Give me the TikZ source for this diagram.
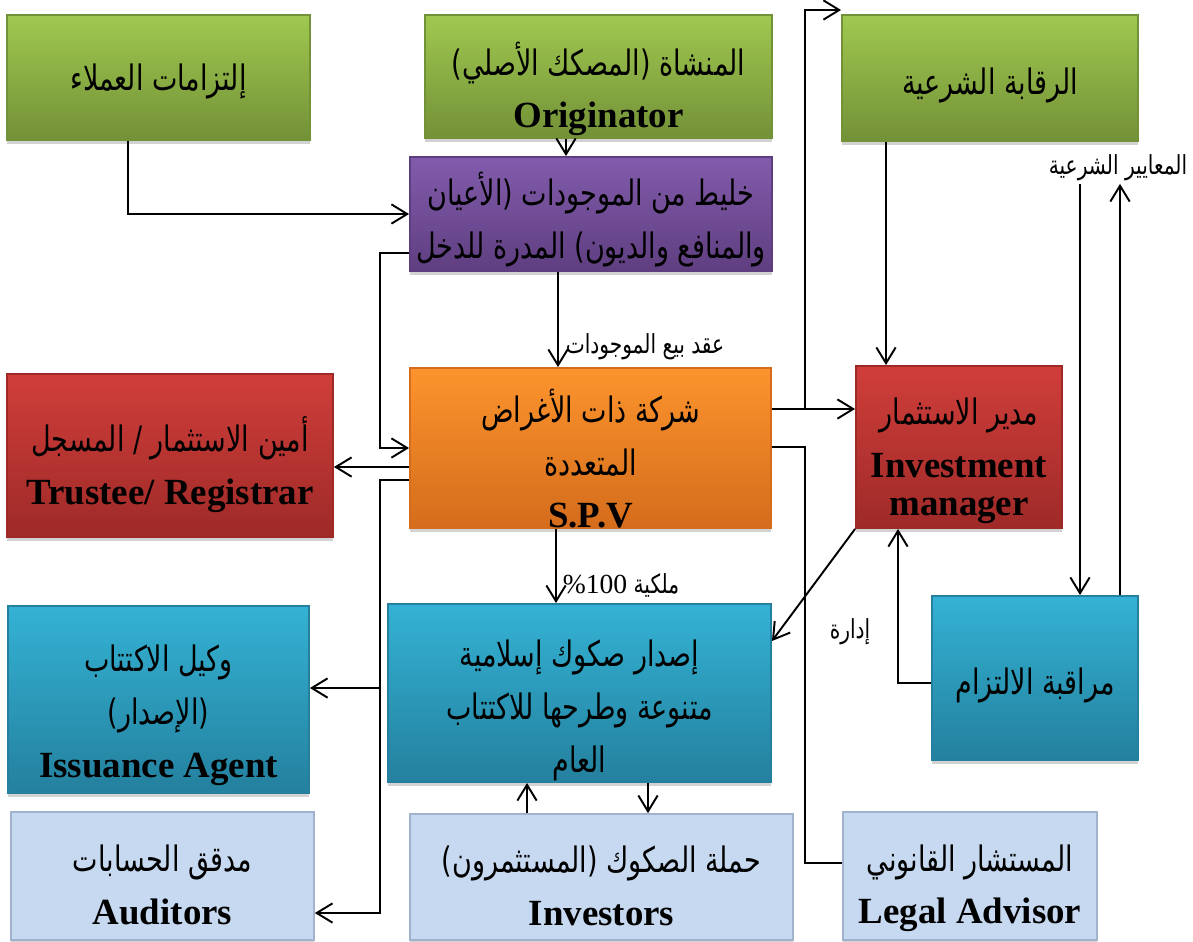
\documentclass[tikz,border=0pt]{standalone}
\usepackage{fontspec}
\setmainfont{Liberation Serif}
\newfontfamily\arabicfont[Script=Arabic, Scale=0.95, FakeStretch=0.77]{DejaVu Sans}
\TeXXeTstate=1
\usetikzlibrary{arrows.meta,shadows}

\definecolor{grntop}{RGB}{160,200,80}
\definecolor{grnbot}{RGB}{115,145,55}
\definecolor{purtop}{RGB}{130,92,172}
\definecolor{purbot}{RGB}{95,62,128}
\definecolor{orgtop}{RGB}{252,148,45}
\definecolor{orgbot}{RGB}{212,108,28}
\definecolor{redtop}{RGB}{208,62,58}
\definecolor{redbot}{RGB}{158,42,40}
\definecolor{blutop}{RGB}{52,178,212}
\definecolor{blubot}{RGB}{36,128,158}
\definecolor{lblue}{RGB}{198,217,240}
\definecolor{lbline}{RGB}{160,178,205}

\tikzset{
  box/.style={rectangle, inner sep=0pt,
    drop shadow={shadow xshift=0pt, shadow yshift=-2pt, fill=black!35}},
  boxtext/.style={align=center, inner sep=0pt, font=\fontsize{21}{30}\selectfont},
  greenbox/.style={box, top color=grntop, bottom color=grnbot, draw=grnbot},
  purplebox/.style={box, top color=purtop, bottom color=purbot, draw=purbot},
  orangebox/.style={box, top color=orgtop, bottom color=orgbot, draw=orgbot},
  redbox/.style={box, top color=redtop, bottom color=redbot, draw=redbot},
  bluebox/.style={box, top color=blutop, bottom color=blubot, draw=blubot},
  lightbox/.style={box, fill=lblue, draw=lbline, line width=1pt},
  arr/.style={-{Straight Barb[length=9pt,width=11pt]}},
  lbl/.style={font=\fontsize{15.7}{18}\selectfont, inner sep=1pt},
}

\begin{document}
\begin{tikzpicture}[x=0.02cm, y=-0.02cm, line width=1.1pt]
    \useasboundingbox (0,0) rectangle (1193,941);

    % top row
    \node [greenbox, minimum width=6.06cm, minimum height=2.5cm,
        label={[boxtext, yshift=-2pt]center:{{\arabicfont\beginR إلتزامات العملاء\endR}}}] (clients) at (158.5,77.5) {};
    \node [greenbox, minimum width=6.94cm, minimum height=2.46cm,
        label={[boxtext, yshift=-7pt]center:{{\arabicfont\beginR المنشاة (المصكك الأصلي)\endR}\\ \textbf{Originator}}}] (orig) at (598.5,76.5) {};
    \node [greenbox, minimum width=5.92cm, minimum height=2.52cm,
        label={[boxtext, yshift=-4pt]center:{{\arabicfont\beginR الرقابة الشرعية\endR}}}] (sharia) at (990,78) {};
    \node [purplebox, minimum width=7.24cm, minimum height=2.28cm,
        label={[boxtext, yshift=-3pt]center:{{\arabicfont\beginR خليط من الموجودات (الأعيان\endR}\\ {\arabicfont\beginR والمنافع والديون) المدرة للدخل\endR}}}] (pool) at (591,214) {};

    % middle row
    \node [orangebox, minimum width=7.22cm, minimum height=3.2cm,
        label={[boxtext, yshift=-6pt]center:{{\arabicfont\beginR شركة ذات الأغراض\endR}\\ {\arabicfont\beginR المتعددة\endR}\\ \textbf{S.P.V}}}] (spv) at (590.5,448) {};
    \node [redbox, minimum width=6.52cm, minimum height=3.26cm,
        label={[boxtext, yshift=-5pt]center:{{\arabicfont\beginR أمين الاستثمار / المسجل\endR}\\ \textbf{Trustee/ Registrar}}}] (trustee) at (170,455.5) {};
    \node [redbox, minimum width=4.12cm, minimum height=3.24cm,
        label={[boxtext, yshift=-8pt]center:{{\arabicfont\beginR مدير الاستثمار\endR}\\ \textbf{Investment}\\[-8pt] \textbf{manager}}}] (im) at (959,447) {};

    % lower rows
    \node [bluebox, minimum width=7.66cm, minimum height=3.56cm,
        label={[boxtext, yshift=-10pt]center:{{\arabicfont\beginR إصدار صكوك إسلامية\endR}\\ {\arabicfont\beginR متنوعة وطرحها للاكتتاب\endR}\\ {\arabicfont\beginR العام\endR}}}] (issue) at (579.5,693) {};
    \node [bluebox, minimum width=6.02cm, minimum height=3.74cm,
        label={[boxtext, yshift=-9pt]center:{{\arabicfont\beginR وكيل الاكتتاب\endR}\\ {\arabicfont\beginR (الإصدار)\endR}\\ \textbf{Issuance Agent}}}] (agent) at (158.5,699.5) {};
    \node [bluebox, minimum width=4.12cm, minimum height=3.28cm,
        label={[boxtext, yshift=-4pt]center:{{\arabicfont\beginR مراقبة الالتزام\endR}}}] (comp) at (1035,678) {};
    \node [lightbox, minimum width=6.06cm, minimum height=2.56cm,
        label={[boxtext, yshift=-5pt]center:{{\arabicfont\beginR مدقق الحسابات\endR}\\ \textbf{Auditors}}}] (aud) at (162.5,876) {};
    \node [lightbox, minimum width=7.66cm, minimum height=2.52cm,
        label={[boxtext, yshift=-5pt]center:{{\arabicfont\beginR حملة الصكوك (المستثمرون)\endR}\\ \textbf{Investors}}}] (inv) at (601.5,877) {};
    \node [lightbox, minimum width=5.08cm, minimum height=2.56cm,
        label={[boxtext, yshift=-7pt]center:{{\arabicfont\beginR المستشار القانوني\endR}\\ \textbf{Legal Advisor}}}] (legal) at (970,876) {};

    % labels
    \node [lbl] (sale) at (645,347) {\arabicfont\beginR عقد بيع الموجودات\endR};
    \node [lbl] (std) at (1118,168) {\arabicfont\beginR المعايير الشرعية\endR};
    \node [lbl] (own) at (621,585) {\arabicfont\beginR ملكية \beginL{\normalfont\%100}\endL\endR};
    \node [lbl] (mgmt) at (850,632) {\arabicfont\beginR إدارة\endR};

    \coordinate (jn) at (805,409);
    \coordinate (bus) at (380,688);

    % connectors
    \draw [arr] (clients.south -| 128,0) |- (pool.west);
    \draw [arr] (orig.south -| 566,0) -- (pool.north -| 566,0);
    \draw [arr] (pool.south -| 558,0) -- (spv.north -| 558,0);
    \draw [arr] (pool.west |- 0,253) -- ++(-29,0) |- (spv.west);
    \draw [arr] (spv.west |- 0,467) -- (trustee.east |- 0,467);
    \draw [arr] (spv.west |- 0,480) -| (bus) |- (aud.east |- 0,913);
    \draw [arr] (bus) -- (agent.east |- bus);
    \draw [arr] (spv.east |- jn) -- (im.west |- jn);
    \draw [arr] (jn) |- (sharia.west |- 0,10);
    \draw (spv.east |- 0,447) -| (805,600) |- (legal.west |- 0,863);
    \draw [arr] (sharia.south -| 886,0) -- (im.north -| 886,0);
    \draw [arr] (spv.south -| 556,0) -- (issue.north -| 556,0);
    \draw [arr] (im.south west) -- (issue.east |- 0,641);
    \draw [arr] (comp.west |- 0,683) -| (im.south -| 898,0);
    \draw [arr] (std.south -| 1080,0) -- (comp.north -| 1080,0);
    \draw [arr] (comp.north -| 1120,0) -- (std.south -| 1120,0);
    \draw [arr] (inv.north -| 527,0) -- (issue.south -| 527,0);
    \draw [arr] (issue.south -| 648,0) -- (inv.north -| 648,0);
\end{tikzpicture}
\end{document}
